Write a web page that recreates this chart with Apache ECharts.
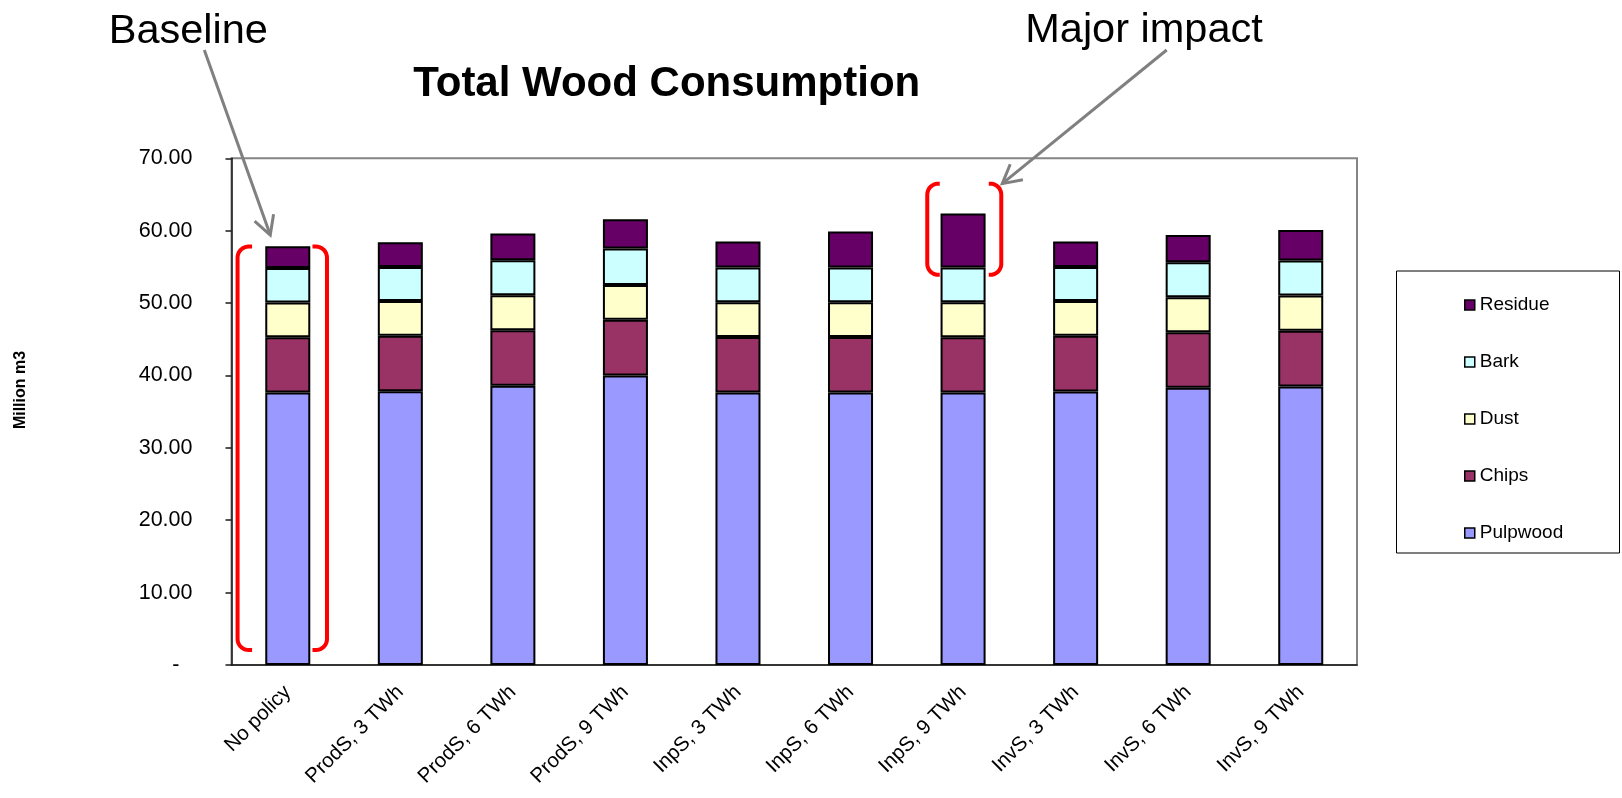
<!DOCTYPE html>
<html>
<head>
<meta charset="utf-8">
<script src="https://cdn.jsdelivr.net/npm/echarts@6/dist/echarts.min.js"></script>
<style>
  html, body { margin: 0; padding: 0; background: #fff; }
  #chart { width: 1622px; height: 798px; }
</style>
</head>
<body>
<div id="chart"></div>
<script>
// Scenario categories along the x axis
const categories = ['No policy', 'ProdS, 3 TWh', 'ProdS, 6 TWh', 'ProdS, 9 TWh',
  'InpS, 3 TWh', 'InpS, 6 TWh', 'InpS, 9 TWh', 'InvS, 3 TWh', 'InvS, 6 TWh', 'InvS, 9 TWh'];

// Wood consumption by assortment, million m3
const pulpwood = [37.65, 37.83, 38.57, 40.00, 37.65, 37.65, 37.65, 37.79, 38.29, 38.48];
const chips    = [7.64, 7.64, 7.68, 7.68, 7.68, 7.68, 7.64, 7.68, 7.69, 7.68];
const dust     = [4.78, 4.83, 4.84, 4.83, 4.79, 4.79, 4.83, 4.83, 4.83, 4.88];
const bark     = [4.79, 4.70, 4.83, 5.02, 4.79, 4.79, 4.79, 4.70, 4.83, 4.83];
const residue  = [2.99, 3.40, 3.68, 4.05, 3.59, 4.97, 7.45, 3.50, 3.78, 4.24];

// Y axis range and tick step
const yMin = 0, yMax = 70, yStep = 10;

const FONT = '"Liberation Sans", Arial, Helvetica, sans-serif';

const seriesDefs = [
  { name: 'Pulpwood', data: pulpwood, color: '#9999FF' },
  { name: 'Chips',    data: chips,    color: '#993366' },
  { name: 'Dust',     data: dust,     color: '#FFFFCC' },
  { name: 'Bark',     data: bark,     color: '#CCFFFF' },
  { name: 'Residue',  data: residue,  color: '#660066' }
];

const chart = echarts.init(document.getElementById('chart'), null, { renderer: 'canvas' });

const option = {
  animation: false,
  backgroundColor: '#ffffff',
  textStyle: { fontFamily: FONT },
  grid: {
    left: 231.5, top: 158.3, right: 265, bottom: 133,
    show: true, borderColor: '#858585', borderWidth: 2, backgroundColor: 'transparent'
  },
  legend: {
    orient: 'vertical',
    left: 1459, top: 290,
    data: ['Residue', 'Bark', 'Dust', 'Chips', 'Pulpwood'],
    icon: 'rect',
    itemWidth: 10, itemHeight: 10, itemGap: 37,
    textStyle: { fontFamily: FONT, fontSize: 19, lineHeight: 20, color: '#000' },
    itemStyle: { borderColor: '#000', borderWidth: 1.5 },
    selectedMode: false
  },
  xAxis: {
    type: 'category',
    data: categories,
    axisLine: { lineStyle: { color: '#1a1a1a', width: 1.5 } },
    axisTick: { show: false },
    axisLabel: {
      rotate: 45, fontSize: 20.5, color: '#000', fontFamily: FONT,
      margin: 24, padding: [36, 0, 0, 0], interval: 0
    }
  },
  yAxis: {
    type: 'value',
    min: yMin, max: yMax, interval: yStep,
    splitLine: { show: false },
    axisLine: { show: true, lineStyle: { color: '#1a1a1a', width: 1.5 } },
    axisTick: { show: true, length: 6, lineStyle: { color: '#1a1a1a', width: 1.5 } },
    axisLabel: {
      fontSize: 21.5, color: '#000', fontFamily: FONT, margin: 39,
      formatter: v => v === 0 ? '{d|-}' : v.toFixed(2),
      rich: { d: { fontSize: 21.5, fontFamily: FONT, color: '#000', padding: [0, 13, 0, 0] } }
    }
  },
  series: seriesDefs.map(s => ({
    name: s.name,
    type: 'bar',
    stack: 'total',
    data: s.data,
    barWidth: '40%',
    itemStyle: { color: s.color, borderColor: '#000', borderWidth: 2 }
  }))
};

chart.setOption(option);

// Annotation overlays: brackets and callout arrows, placed from the axis scales
function px(cat, val) { return chart.convertToPixel({ xAxisIndex: 0, yAxisIndex: 0 }, [cat, val]); }

const bandW = px(1, 0)[0] - px(0, 0)[0];
const halfBar = bandW * 0.2;

// Rounded bracket as a polyline: lip, corner, vertical stroke, corner, lip
function bracketPoints(xV, yTop, yBot, dir, lip) {
  const r = 11, n = 10, pts = [];
  pts.push([xV + dir * lip, yTop]);
  for (let i = 0; i <= n; i++) {
    const a = Math.PI / 2 * i / n;
    pts.push([xV + dir * (r - r * Math.sin(a)), yTop + r - r * Math.cos(a)]);
  }
  for (let i = 0; i <= n; i++) {
    const a = Math.PI / 2 * i / n;
    pts.push([xV + dir * (r - r * Math.cos(a)), yBot - r + r * Math.sin(a)]);
  }
  pts.push([xV + dir * lip, yBot]);
  return pts;
}

function bracketPair(cat, vTop, vBot, offL, offR, lip) {
  const c = px(cat, 0)[0];
  const yT = px(cat, vTop)[1];
  const yB = px(cat, vBot)[1];
  const xl = c - halfBar - offL;
  const xr = c + halfBar + offR;
  const style = { stroke: '#FF0000', lineWidth: 4, fill: null, lineCap: 'butt', lineJoin: 'round' };
  return [
    { type: 'polyline', shape: { points: bracketPoints(xl, yT, yB, 1, lip) }, style: style, z: 100 },
    { type: 'polyline', shape: { points: bracketPoints(xr, yT, yB, -1, lip) }, style: style, z: 100 }
  ];
}

function arrow(x1, y1, x2, y2) {
  const ang = Math.atan2(y2 - y1, x2 - x1);
  const L = 21, a = 0.5;
  const h1 = [x2 - L * Math.cos(ang - a), y2 - L * Math.sin(ang - a)];
  const h2 = [x2 - L * Math.cos(ang + a), y2 - L * Math.sin(ang + a)];
  const st = { stroke: '#808080', lineWidth: 3, fill: null, lineCap: 'butt', lineJoin: 'miter' };
  return [
    { type: 'line', shape: { x1: x1, y1: y1, x2: x2, y2: y2 }, style: st, z: 100 },
    { type: 'polyline', shape: { points: [h1, [x2, y2], h2] }, style: st, z: 100 }
  ];
}

const baseTip = px(0, 59.4);
const impactTip = px(6, 66.5);

const graphics = [
  // legend frame
  { type: 'rect', shape: { x: 1396.5, y: 271, width: 223, height: 282 },
    style: { fill: 'transparent', stroke: '#000', lineWidth: 1 }, z: 1 },
  // chart title
  { type: 'text', x: 666.7, y: 84, z: 100,
    style: { text: 'Total Wood Consumption', font: 'bold 42px ' + FONT, fill: '#000',
      textAlign: 'center', textVerticalAlign: 'middle' } },
  // callout labels
  { type: 'text', x: 188.3, y: 32, z: 100,
    style: { text: 'Baseline', font: '41.5px ' + FONT, fill: '#000',
      textAlign: 'center', textVerticalAlign: 'middle' } },
  { type: 'text', x: 1144, y: 31, z: 100,
    style: { text: 'Major impact', font: '41.5px ' + FONT, fill: '#000',
      textAlign: 'center', textVerticalAlign: 'middle' } },
  // y axis title
  { type: 'text', x: 21, y: 390, rotation: Math.PI / 2, z: 100,
    style: { text: 'Million m3', font: 'bold 16px ' + FONT, fill: '#000',
      textAlign: 'center', textVerticalAlign: 'middle' } }
]
  .concat(bracketPair(0, 57.8, 2.07, 27.7, 16.7, 14.5))
  .concat(bracketPair(6, 66.5, 53.9, 13.3, 15.7, 12.5))
  .concat(arrow(204.3, 50, baseTip[0] - 17.5, baseTip[1]))
  .concat(arrow(1166.7, 50, impactTip[0] + halfBar + 16.7, impactTip[1]));

chart.setOption({ graphic: graphics });
</script>
</body>
</html>
